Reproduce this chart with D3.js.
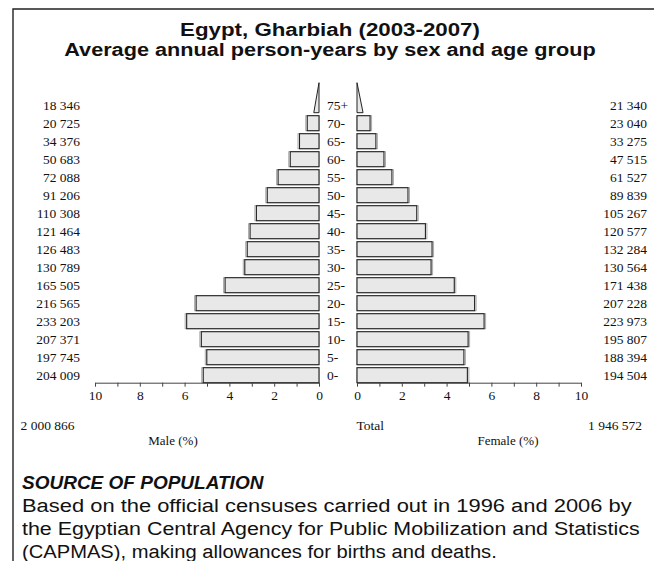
<!DOCTYPE html>
<html><head><meta charset="utf-8">
<script src="https://cdn.jsdelivr.net/npm/d3@7"></script>
<style>
html,body{margin:0;padding:0;background:#fff;}
svg{display:block;}
</style></head>
<body>
<svg id="chart" width="654" height="561"></svg>
<script>
// ---- data ----
const ageGroups = ["0-","5-","10-","15-","20-","25-","30-","35-","40-","45-","50-","55-","60-","65-","70-","75+"];
const maleValues = [204009,197745,207371,233203,216565,165505,130789,126483,121464,110308,91206,72088,50683,34376,20725,18346];
const femaleValues = [194504,188394,195807,223973,207228,171438,130564,132284,120577,105267,89839,61527,47515,33275,23040,21340];
const maleTotal = 2000866;
const femaleTotal = 1946572;
const pctTicks = [0,1,2,3,4,5,6,7,8,9,10];
const titleLines = ["Egypt, Gharbiah (2003-2007)", "Average annual person-years by sex and age group"];
const sourceTitle = "SOURCE OF POPULATION";
const sourceLines = [
  "Based on the official censuses carried out in 1996 and 2006 by",
  "the Egyptian Central Agency for Public Mobilization and Statistics",
  "(CAPMAS), making allowances for births and deaths."
];

const svg = d3.select("#chart");
const serif = "'Liberation Serif','Times New Roman',serif";
const sans = "'Liberation Sans',Arial,Helvetica,sans-serif";
const grand = maleTotal + femaleTotal;
const fmt = v => d3.format(",")(v).replace(/,/g, " ");

// stretch a text horizontally to a target width (anchor-aware)
function fitWidth(sel, widthFn, xFn, yFn, anchor) {
  sel.each(function(d, i) {
    const t = d3.select(this);
    const w = this.getComputedTextLength();
    const sx = widthFn(d, i) / w;
    t.attr("x", 0).attr("y", 0).attr("text-anchor", anchor)
     .attr("transform", `translate(${xFn(d,i)},${yFn(d,i)}) scale(${sx},1)`);
  });
}

// frame (top and left edges)
svg.append("path").attr("d", "M13,561V9H654").attr("fill","none").attr("stroke","#222").attr("stroke-width",1.4);

// titles
const titleWidths = [300, 532];
svg.selectAll("text.title").data(titleLines).join("text")
  .attr("class","title")
  .attr("font-family", sans).attr("font-weight","bold").attr("font-size", 18.5)
  .attr("fill","#111")
  .text(d => d)
  .call(fitWidth, (d,i) => titleWidths[i], () => 330, (d,i) => 35.5 + i*20, "middle");

// scales
const axisY = 382.7;
const xL = d3.scaleLinear().domain([0,10]).range([319,95]);
const xR = d3.scaleLinear().domain([0,10]).range([357,581]);
const y = d3.scaleBand().domain(ageGroups.slice().reverse())
  .range([axisY - 16*18 + 3, axisY]).paddingInner(3/18).paddingOuter(0);
const bw = y.bandwidth();

const rows = ageGroups.map((a,i) => ({age:a, m: maleValues[i]/grand*100, f: femaleValues[i]/grand*100, mv: maleValues[i], fv: femaleValues[i]}));
const rectRows = rows.filter(d => d.age !== "75+");
const lastRow = rows.find(d => d.age === "75+");

const g = svg.append("g");
// shadows
g.selectAll("rect.ms").data(rectRows).join("rect").attr("class","ms")
  .attr("x", d => xL(d.m) - 1.5).attr("y", d => y(d.age)).attr("width", d => xL(0) - xL(d.m) + 1.5).attr("height", bw)
  .attr("fill","none").attr("stroke","#aaa").attr("stroke-width",1);
g.selectAll("rect.fs").data(rectRows).join("rect").attr("class","fs")
  .attr("x", xR(0)).attr("y", d => y(d.age)).attr("width", d => xR(d.f) - xR(0) + 1.5).attr("height", bw)
  .attr("fill","none").attr("stroke","#aaa").attr("stroke-width",1);
// bars
g.selectAll("rect.m").data(rectRows).join("rect").attr("class","m")
  .attr("x", d => xL(d.m)).attr("y", d => y(d.age)).attr("width", d => xL(0) - xL(d.m)).attr("height", bw)
  .attr("fill","#e8e8e8").attr("stroke","#222").attr("stroke-width",1.1);
g.selectAll("rect.f").data(rectRows).join("rect").attr("class","f")
  .attr("x", xR(0)).attr("y", d => y(d.age)).attr("width", d => xR(d.f) - xR(0)).attr("height", bw)
  .attr("fill","#e8e8e8").attr("stroke","#222").attr("stroke-width",1.1);
// open-ended group as triangles
const yb = y(lastRow.age) + bw, yt = y(lastRow.age) - bw;
g.append("path").attr("d", `M${xL(0)},${yb}L${xL(lastRow.m/2)},${yb}L${xL(0)},${yt}Z`)
  .attr("fill","#e8e8e8").attr("stroke","#222").attr("stroke-width",1);
g.append("path").attr("d", `M${xR(0)},${yb}L${xR(lastRow.f/2)},${yb}L${xR(0)},${yt}Z`)
  .attr("fill","#e8e8e8").attr("stroke","#222").attr("stroke-width",1);

// axes
function styleAxis(sel){
  sel.select(".domain").attr("stroke","#444");
  sel.selectAll(".tick line").attr("stroke","#444");
  sel.selectAll(".tick text").attr("font-family", serif).attr("font-size", 13.5).attr("fill","#111");
}
const axL = d3.axisBottom(xL).tickValues(pctTicks).tickSize(4).tickSizeOuter(0).tickPadding(4)
  .tickFormat(d => d % 2 === 0 ? d : "");
const axR = d3.axisBottom(xR).tickValues(pctTicks).tickSize(4).tickSizeOuter(0).tickPadding(4)
  .tickFormat(d => d % 2 === 0 ? d : "");
svg.append("g").attr("transform", `translate(0,${axisY})`).call(axL).call(styleAxis).attr("font-family", serif);
svg.append("g").attr("transform", `translate(0,${axisY})`).call(axR).call(styleAxis).attr("font-family", serif);

// labels
const lab = svg.append("g").attr("font-family", serif).attr("font-size", 13.5).attr("fill","#111");
lab.selectAll("text.ml").data(rows).join("text").attr("class","ml")
  .attr("x", 80).attr("y", d => y(d.age) + bw/2 + 4.7).attr("text-anchor","end").text(d => fmt(d.mv));
lab.selectAll("text.fl").data(rows).join("text").attr("class","fl")
  .attr("x", 647).attr("y", d => y(d.age) + bw/2 + 4.7).attr("text-anchor","end").text(d => fmt(d.fv));
lab.selectAll("text.al").data(rows).join("text").attr("class","al")
  .attr("x", 327).attr("y", d => y(d.age) + bw/2 + 4.7).attr("text-anchor","start").text(d => d.age);

lab.append("text").attr("x", 20.5).attr("y", 430).text(fmt(maleTotal));
lab.append("text").attr("x", 642).attr("y", 430).attr("text-anchor","end").text(fmt(femaleTotal));
lab.append("text").attr("x", 356.5).attr("y", 430).text("Total");
lab.append("text").attr("x", 173).attr("y", 445).attr("text-anchor","middle").attr("font-size",13).text("Male (%)");
lab.append("text").attr("x", 508).attr("y", 445).attr("text-anchor","middle").attr("font-size",13).text("Female (%)");

// source
svg.append("text").attr("x", 22).attr("y", 489)
  .attr("font-family", sans).attr("font-weight","bold").attr("font-style","italic").attr("font-size", 19)
  .attr("fill","#111").text(sourceTitle);
const srcWidths = [610, 618, 475];
svg.selectAll("text.src").data(sourceLines).join("text").attr("class","src")
  .attr("font-family", sans).attr("font-size", 19).attr("fill","#111")
  .text(d => d)
  .call(fitWidth, (d,i) => srcWidths[i], () => 22, (d,i) => 511.5 + i*23, "start");
</script>
</body></html>
